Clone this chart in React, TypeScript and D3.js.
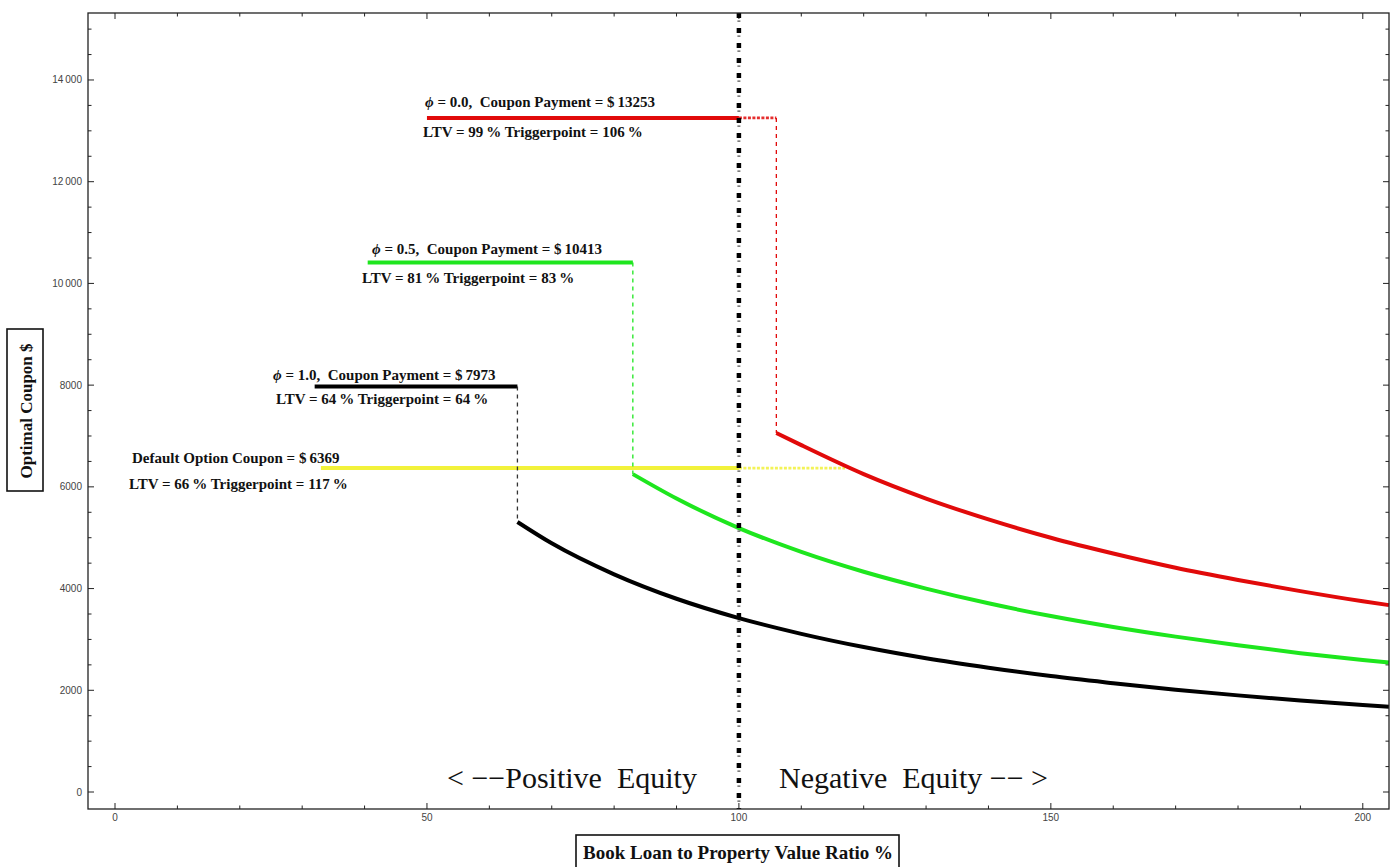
import React from "react";
import * as d3 from "d3";

// Book loan-to-value ratio (%) vs optimal coupon ($)
const redFlat = { x0: 50, x1: 106, y: 13253 };
const greenFlat = { x0: 40.5, x1: 83, y: 10413 };
const blackFlat = { x0: 32, x1: 64.5, y: 7973 };
const yellowFlat = { x0: 33, x1: 117, y: 6369 };

const redX = [106, 110, 120, 130, 140, 150, 160, 170, 180, 190, 200, 204.2];
const redY = [7060, 6820, 6250, 5770, 5360, 5000, 4690, 4410, 4170, 3950, 3750, 3675];

const greenX = [83, 90, 100, 110, 120, 130, 140, 150, 160, 170, 180, 190, 200, 204.2];
const greenY = [6250, 5770, 5190, 4720, 4330, 4000, 3710, 3460, 3245, 3055, 2885, 2730, 2595, 2545];

const blackX = [64.5, 70, 80, 90, 100, 110, 120, 130, 140, 150, 160, 170, 180, 190, 200, 204.2];
const blackY = [5310, 4890, 4280, 3800, 3420, 3110, 2850, 2630, 2445, 2280, 2140, 2010, 1900, 1800, 1710, 1675];

const xTicks = [0, 50, 100, 150, 200];
const yTicks = [0, 2000, 4000, 6000, 8000, 10000, 12000, 14000];
const yTickLabels = ["0", "2000", "4000", "6000", "8000", "10\u2009000", "12\u2009000", "14\u2009000"];

const equityBoundary = 100;

const W = 1395;
const H = 867;
const frame = { left: 88, right: 1389, top: 13, bottom: 809 };

const RED = "#e10a0a";
const GREEN = "#1ee61e";
const YELLOW = "#f2f23a";

export default function App() {
  const x = d3.scaleLinear().domain([-4.33, 204.2]).range([frame.left, frame.right]);
  const y = d3.scaleLinear().domain([-334, 15317]).range([frame.bottom, frame.top]);

  const line = d3
    .line<[number, number]>()
    .x((d) => x(d[0]))
    .y((d) => y(d[1]))
    .curve(d3.curveMonotoneX);

  const zip = (xs: number[], ys: number[]) => xs.map((v, i) => [v, ys[i]] as [number, number]);

  const xMinor = d3.range(0, 210, 10);
  const yMinor = d3.range(0, 15500, 500);

  const serif = "'Liberation Serif', 'Times New Roman', serif";
  const labelStyle = { fontFamily: serif, fontWeight: 700, fontSize: 15, fill: "#111" } as const;

  const flat = (f: { x0: number; x1: number; y: number }, color: string, key: string) => {
    const xb = Math.min(f.x1, equityBoundary);
    return (
      <g key={key}>
        <line x1={x(f.x0)} x2={x(xb)} y1={y(f.y)} y2={y(f.y)} stroke={color} strokeWidth={4} />
        {f.x1 > equityBoundary && (
          <line
            x1={x(equityBoundary)}
            x2={x(f.x1)}
            y1={y(f.y)}
            y2={y(f.y)}
            stroke={color}
            strokeWidth={2.8}
            strokeDasharray="3 1.5"
            opacity={0.85}
          />
        )}
      </g>
    );
  };

  const drop = (xv: number, yTop: number, yBottom: number, color: string) => (
    <line
      x1={x(xv)}
      x2={x(xv)}
      y1={y(yTop)}
      y2={y(yBottom)}
      stroke={color}
      strokeWidth={1.3}
      strokeDasharray="4 4"
    />
  );

  const phiLabel = (px: number, py: number, phi: string, amount: string) => (
    <text x={px} y={py} {...labelStyle} xmlSpace="preserve">
      <tspan fontStyle="italic">{"\u03d5"}</tspan>
      {` = ${phi},  Coupon Payment = $\u2009${amount}`}
    </text>
  );

  const ltvLabel = (px: number, py: number, ltv: number, trig: number) => (
    <text x={px} y={py} {...labelStyle} xmlSpace="preserve">
      {`LTV = ${ltv}\u2009% Triggerpoint = ${trig}\u2009%`}
    </text>
  );

  return (
    <svg
      width={W}
      height={H}
      style={{ position: "absolute", left: 0, top: 0, background: "#fff" }}
    >
      {/* frame ticks */}
      <g stroke="#222" strokeWidth={1}>
        {xMinor.map((v) => {
          const major = v % 50 === 0;
          const len = major ? 6 : 3.5;
          return (
            <g key={"xt" + v}>
              <line x1={x(v)} x2={x(v)} y1={frame.bottom} y2={frame.bottom - len} />
              <line x1={x(v)} x2={x(v)} y1={frame.top} y2={frame.top + len} />
            </g>
          );
        })}
        {yMinor.map((v) => {
          const major = v % 2000 === 0;
          const len = major ? 6 : 3.5;
          return (
            <g key={"yt" + v}>
              <line x1={frame.left} x2={frame.left + len} y1={y(v)} y2={y(v)} />
              <line x1={frame.right} x2={frame.right - len} y1={y(v)} y2={y(v)} />
            </g>
          );
        })}
      </g>

      {/* tick labels */}
      <g fontFamily="'Liberation Sans', Arial, sans-serif" fontSize={10} fill="#444">
        {xTicks.map((v) => (
          <text key={"xl" + v} x={x(v)} y={821} textAnchor="middle">
            {v}
          </text>
        ))}
        {yTicks.map((v, i) => (
          <text key={"yl" + v} x={82} y={y(v) + 3.5} textAnchor="end">
            {yTickLabels[i]}
          </text>
        ))}
      </g>

      {/* flat coupon segments */}
      {flat(redFlat, RED, "rf")}
      {flat(greenFlat, GREEN, "gf")}
      {flat(blackFlat, "#000", "bf")}
      {flat(yellowFlat, YELLOW, "yf")}

      {/* drops at trigger points */}
      {drop(redFlat.x1, redFlat.y, redY[0], RED)}
      {drop(greenFlat.x1, greenFlat.y, greenY[0], GREEN)}
      {drop(blackFlat.x1, blackFlat.y, blackY[0], "#333")}

      {/* coupon curves after the trigger */}
      <path d={line(zip(redX, redY)) ?? ""} fill="none" stroke={RED} strokeWidth={4} />
      <path d={line(zip(greenX, greenY)) ?? ""} fill="none" stroke={GREEN} strokeWidth={4} />
      <path d={line(zip(blackX, blackY)) ?? ""} fill="none" stroke="#000" strokeWidth={4} />

      {/* LTV = 100 % boundary */}
      <line
        x1={x(equityBoundary)}
        x2={x(equityBoundary)}
        y1={frame.top}
        y2={frame.bottom}
        stroke="#000"
        strokeWidth={4.5}
        strokeDasharray="5 10"
      />
      <line
        x1={x(equityBoundary)}
        x2={x(equityBoundary)}
        y1={frame.top + 7.5}
        y2={frame.bottom}
        stroke="#555"
        strokeWidth={3}
        strokeDasharray="1.3 13.7"
      />

      {/* frame */}
      <rect
        x={frame.left}
        y={frame.top}
        width={frame.right - frame.left}
        height={frame.bottom - frame.top}
        fill="none"
        stroke="#222"
        strokeWidth={1.3}
      />

      {/* annotations */}
      {phiLabel(425, 107, "0.0", "13253")}
      {ltvLabel(423, 137, 99, 106)}
      {phiLabel(372, 254, "0.5", "10413")}
      {ltvLabel(362, 283, 81, 83)}
      {phiLabel(273, 380, "1.0", "7973")}
      {ltvLabel(276, 404, 64, 64)}
      <text x={132} y={463} {...labelStyle} xmlSpace="preserve">
        {"Default Option Coupon = $\u20096369"}
      </text>
      {ltvLabel(129, 489, 66, 117)}

      <g fontFamily={serif} fontSize={30} fill="#111">
        <text x={447} y={788} xmlSpace="preserve">{"< \u2212\u2212Positive  Equity"}</text>
        <text x={779} y={788} xmlSpace="preserve">{"Negative  Equity \u2212\u2212 >"}</text>
      </g>

      {/* axis titles */}
      <rect x={576} y={835} width={323} height={40} fill="#fff" stroke="#111" strokeWidth={1.6} />
      <text
        x={738}
        y={859}
        textAnchor="middle"
        fontFamily={serif}
        fontWeight={700}
        fontSize={19}
        fill="#111"
      >
        Book Loan to Property Value Ratio %
      </text>
      <rect x={7} y={329} width={36} height={162} fill="#fff" stroke="#111" strokeWidth={1.6} />
      <text
        transform="translate(32,411) rotate(-90)"
        textAnchor="middle"
        fontFamily={serif}
        fontWeight={700}
        fontSize={17}
        fill="#111"
      >
        Optimal Coupon $
      </text>
    </svg>
  );
}
